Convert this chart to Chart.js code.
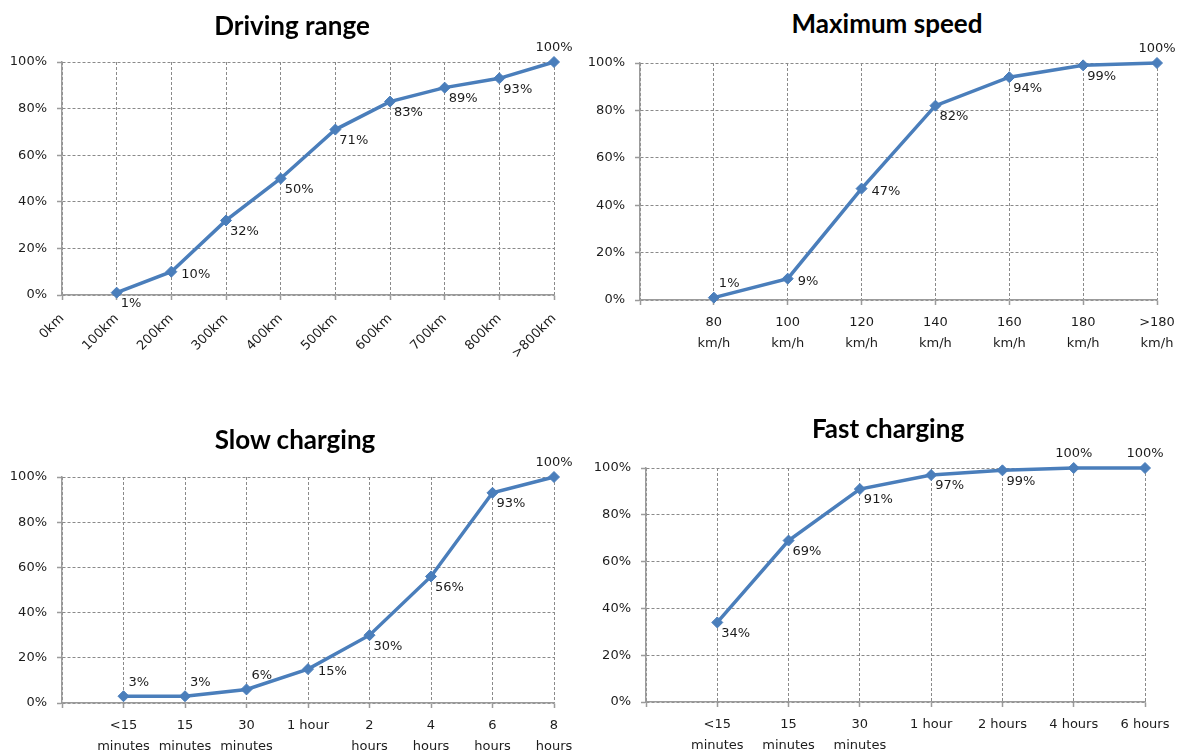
<!DOCTYPE html>
<html>
<head>
<meta charset="utf-8">
<script src="https://cdn.jsdelivr.net/npm/chart.js@4.4.1/dist/chart.umd.min.js"></script>
<style>
  html, body { margin: 0; padding: 0; background: #fff; }
  body { width: 1184px; height: 751px; position: relative; overflow: hidden; }
  canvas { position: absolute; }
  .title {
    position: absolute;
    font-family: Lato, "Open Sans", sans-serif;
    font-weight: bold;
    font-size: 26px;
    color: #000;
    transform: translate(-50%, -50%);
    white-space: nowrap;
  }
</style>
</head>
<body>
<canvas id="range"></canvas>
<canvas id="speed"></canvas>
<canvas id="slow"></canvas>
<canvas id="fast"></canvas>

<div class="title" style="left:292px; top:25px;">Driving range</div>
<div class="title" style="left:887px; top:23px;">Maximum speed</div>
<div class="title" style="left:295px; top:439px;">Slow charging</div>
<div class="title" style="left:888px; top:428px;">Fast charging</div>

<script>
// Cumulative share of respondents per category (percent)
const rangeLabels = ['0km', '100km', '200km', '300km', '400km', '500km', '600km', '700km', '800km', '>800km'];
const rangeShares = [null, 1, 10, 32, 50, 71, 83, 89, 93, 100];

const speedLabels = ['', ['80', 'km/h'], ['100', 'km/h'], ['120', 'km/h'], ['140', 'km/h'], ['160', 'km/h'], ['180', 'km/h'], ['>180', 'km/h']];
const speedShares = [null, 1, 9, 47, 82, 94, 99, 100];

const slowLabels = ['', ['<15', 'minutes'], ['15', 'minutes'], ['30', 'minutes'], '1 hour', ['2', 'hours'], ['4', 'hours'], ['6', 'hours'], ['8', 'hours']];
const slowShares = [null, 3, 3, 6, 15, 30, 56, 93, 100];

const fastLabels = ['', ['<15', 'minutes'], ['15', 'minutes'], ['30', 'minutes'], '1 hour', '2 hours', '4 hours', '6 hours'];
const fastShares = [null, 34, 69, 91, 97, 99, 100, 100];

const percentTicks = [0, 20, 40, 60, 80, 100];

// Where each value tag sits relative to its point: a = above, r = right, br = below right, ar = above right
const rangeTags = ['', 'br', 'r', 'br', 'br', 'br', 'br', 'br', 'br', 'a'];
const speedTags = ['', 'ar', 'r', 'r', 'br', 'br', 'br', 'a'];
const slowTags  = ['', 'ar', 'ar', 'ar', 'r', 'br', 'br', 'br', 'a'];
const fastTags  = ['', 'br', 'br', 'br', 'br', 'br', 'a', 'a'];

const LINE_BLUE = '#4a7ebb';
const AXIS_GREY = '#9b9b9b';
const GRID_GREY = '#8a8a8a';
const TEXT_COLOR = '#1c1c1c';
const TEXT_FONT = '"DejaVu Sans", sans-serif';

// Draws the "NN%" tag next to every point
const valueTags = {
  id: 'valueTags',
  afterDatasetsDraw(chart, args, opts) {
    const ctx = chart.ctx;
    const meta = chart.getDatasetMeta(0);
    const values = chart.data.datasets[0].data;
    ctx.save();
    ctx.font = '13px ' + TEXT_FONT;
    ctx.fillStyle = TEXT_COLOR;
    ctx.textBaseline = 'middle';
    meta.data.forEach((pt, i) => {
      const v = values[i];
      if (v === null || v === undefined) return;
      const tag = opts.tags[i];
      let x = pt.x, y = pt.y;
      if (tag === 'a') { ctx.textAlign = 'center'; y -= 14; }
      else {
        ctx.textAlign = 'left';
        if (tag === 'br') { x += 4; y += 11; }
        else if (tag === 'r') { x += 10; y += 3; }
        else if (tag === 'ar') { x += 5; y -= 14; }
      }
      ctx.fillText(v + '%', x, y);
    });
    ctx.restore();
  }
};

function drawPanel(id, box, plot, labels, values, tags, rotated) {
  const canvas = document.getElementById(id);
  canvas.width = box.width;
  canvas.height = box.height;
  canvas.style.left = box.left + 'px';
  canvas.style.top = box.top + 'px';

  new Chart(canvas, {
    type: 'line',
    data: {
      labels: labels,
      datasets: [{
        data: values,
        borderColor: LINE_BLUE,
        backgroundColor: LINE_BLUE,
        borderWidth: 3.5,
        pointStyle: 'rectRot',
        pointRadius: 5.5,
        pointBorderWidth: 1,
        pointBackgroundColor: LINE_BLUE,
        pointBorderColor: LINE_BLUE,
        tension: 0,
        spanGaps: false,
        clip: false
      }]
    },
    options: {
      responsive: false,
      animation: false,
      events: [],
      layout: {
        autoPadding: false,
        padding: {
          left: 0,
          top: plot.top - box.top,
          right: box.left + box.width - plot.right,
          bottom: 0
        }
      },
      plugins: {
        legend: { display: false },
        title: { display: false },
        tooltip: { enabled: false },
        valueTags: { tags: tags }
      },
      scales: {
        x: {
          type: 'category',
          offset: false,
          grid: {
            color: GRID_GREY,
            lineWidth: 1,
            drawTicks: true,
            tickLength: 5,
            tickColor: AXIS_GREY,
            tickWidth: 1.5,
            tickBorderDash: []
          },
          border: { display: true, color: AXIS_GREY, width: 1.5, dash: [3, 2] },
          ticks: {
            autoSkip: false,
            color: TEXT_COLOR,
            font: { family: TEXT_FONT, size: 13, lineHeight: rotated ? 1.2 : 1.55 },
            padding: rotated ? 11 : 8,
            minRotation: rotated ? 45 : 0,
            maxRotation: rotated ? 45 : 0
          },
          afterFit(scale) { scale.height = box.top + box.height - plot.bottom; }
        },
        y: {
          min: 0,
          max: 100,
          afterBuildTicks(scale) { scale.ticks = percentTicks.map(v => ({ value: v })); },
          grid: {
            color: GRID_GREY,
            lineWidth: 1,
            drawTicks: true,
            tickLength: 5,
            tickColor: AXIS_GREY,
            tickWidth: 1.5,
            tickBorderDash: []
          },
          border: { display: true, color: AXIS_GREY, width: 1.5, dash: [3, 2] },
          ticks: {
            color: TEXT_COLOR,
            font: { family: TEXT_FONT, size: 13 },
            padding: 10,
            callback: v => v + '%'
          },
          afterFit(scale) { scale.width = plot.left - box.left; }
        }
      }
    },
    plugins: [valueTags]
  });
}

drawPanel('range', { left: 0, top: 40, width: 592, height: 340 },
  { left: 62, right: 554, top: 62, bottom: 295 }, rangeLabels, rangeShares, rangeTags, true);
drawPanel('speed', { left: 570, top: 40, width: 614, height: 340 },
  { left: 640, right: 1157, top: 63, bottom: 300 }, speedLabels, speedShares, speedTags, false);
drawPanel('slow', { left: 0, top: 440, width: 592, height: 311 },
  { left: 62, right: 554, top: 477, bottom: 703 }, slowLabels, slowShares, slowTags, false);
drawPanel('fast', { left: 570, top: 440, width: 614, height: 311 },
  { left: 646, right: 1145, top: 468, bottom: 702 }, fastLabels, fastShares, fastTags, false);
</script>
</body>
</html>
